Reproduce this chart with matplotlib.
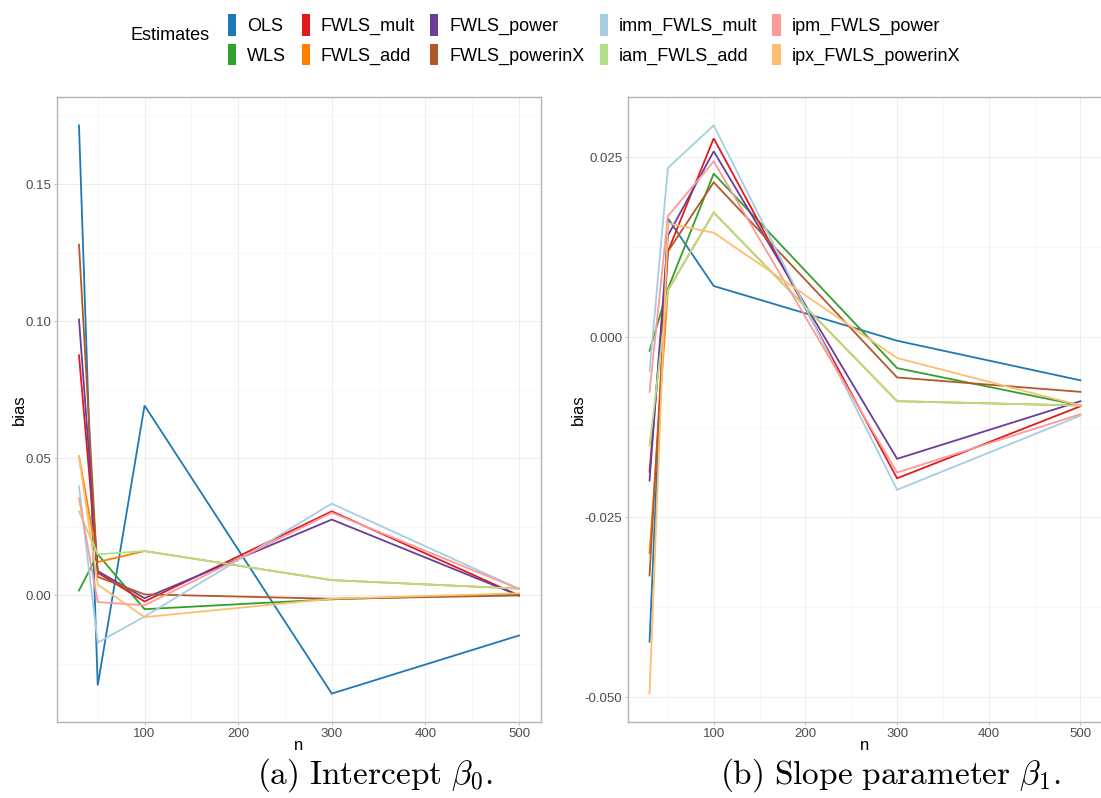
import numpy as np
import matplotlib.pyplot as plt
from matplotlib.patches import Patch
from matplotlib.ticker import MultipleLocator

plt.rcParams['font.family'] = ['Liberation Sans', 'DejaVu Sans']
plt.rcParams['mathtext.fontset'] = 'cm'

n = [30, 50, 100, 300, 500]

estimates = ['OLS', 'WLS', 'FWLS_mult', 'FWLS_add', 'FWLS_power', 'FWLS_powerinX',
             'imm_FWLS_mult', 'iam_FWLS_add', 'ipm_FWLS_power', 'ipx_FWLS_powerinX']
colors = ['#1F78B4', '#33A02C', '#E31A1C', '#FF7F00', '#6A3D9A', '#B15928',
          '#A6CEE3', '#B2DF8A', '#FB9A99', '#FDBF6F']

# bias of the intercept beta_0
b0_ols = [0.1715, -0.0328, 0.0693, -0.0358, -0.0146]
b0_wls = [0.0018, 0.0150, -0.0050, -0.0014, 0.0005]
b0_mult = [0.0876, 0.0083, -0.0022, 0.0307, 0.0000]
b0_add = [0.0508, 0.0122, 0.0162, 0.0056, 0.0025]
b0_power = [0.1007, 0.0089, -0.0010, 0.0277, 0.0000]
b0_powerinx = [0.1280, 0.0068, 0.0004, -0.0012, 0.0000]
b0_imm = [0.0398, -0.0172, -0.0077, 0.0335, 0.0024]
b0_iam = [0.0306, 0.0150, 0.0162, 0.0056, 0.0025]
b0_ipm = [0.0355, -0.0024, -0.0036, 0.0302, 0.0024]
b0_ipx = [0.0505, 0.0040, -0.0079, -0.0012, 0.0008]

# bias of the slope beta_1
b1_ols = [-0.0423, 0.0165, 0.0071, -0.0005, -0.0060]
b1_wls = [-0.0019, 0.0067, 0.0227, -0.0043, -0.0095]
b1_mult = [-0.0187, 0.0119, 0.0276, -0.0196, -0.0096]
b1_add = [-0.0300, 0.0065, 0.0173, -0.0089, -0.0095]
b1_power = [-0.0199, 0.0141, 0.0258, -0.0169, -0.0089]
b1_powerinx = [-0.0331, 0.0119, 0.0215, -0.0056, -0.0076]
b1_imm = [-0.0047, 0.0235, 0.0294, -0.0212, -0.0109]
b1_iam = [-0.0151, 0.0065, 0.0173, -0.0089, -0.0095]
b1_ipm = [-0.0076, 0.0168, 0.0244, -0.0188, -0.0107]
b1_ipx = [-0.0495, 0.0158, 0.0145, -0.0029, -0.0095]

b0 = [b0_ols, b0_wls, b0_mult, b0_add, b0_power, b0_powerinx, b0_imm, b0_iam, b0_ipm, b0_ipx]
b1 = [b1_ols, b1_wls, b1_mult, b1_add, b1_power, b1_powerinx, b1_imm, b1_iam, b1_ipm, b1_ipx]

W, H = 1101, 798
fig = plt.figure(figsize=(W / 100, H / 100), dpi=100)
fig.set_facecolor('white')

ax1 = fig.add_axes([57 / W, 1 - 722 / H, (541 - 57) / W, (722 - 97) / H])
ax2 = fig.add_axes([628 / W, 1 - 722 / H, (1102 - 628) / W, (722 - 97) / H])


def draw(ax, series, ystep):
    for vals, c in zip(series, colors):
        ax.plot(n, vals, color=c, lw=1.3, solid_joinstyle='miter')
    allv = np.concatenate(series)
    lo, hi = allv.min(), allv.max()
    pad = (hi - lo) * 0.05
    ax.set_ylim(lo - pad, hi + pad)
    ax.set_xlim(30 - 470 * 0.05, 500 + 470 * 0.05)
    ax.xaxis.set_major_locator(MultipleLocator(100))
    ax.xaxis.set_minor_locator(MultipleLocator(50))
    ax.yaxis.set_major_locator(MultipleLocator(ystep))
    ax.yaxis.set_minor_locator(MultipleLocator(ystep / 2))
    ax.grid(which='major', color='#EBEBEB', lw=0.6)
    ax.grid(which='minor', color='#F4F4F4', lw=0.5)
    ax.set_axisbelow(True)
    for s in ax.spines.values():
        s.set_color('#B3B3B3')
        s.set_linewidth(1.0)
    ax.tick_params(which='major', length=2.5, width=0.6, color='#B3B3B3',
                   labelcolor='#4D4D4D', labelsize=9.5, pad=1.5)
    ax.tick_params(which='minor', length=0)
    ax.set_xlabel('n', fontsize=12, labelpad=-1)
    ax.set_ylabel('bias', fontsize=12, labelpad=-1)


draw(ax1, b0, 0.05)
ax1.yaxis.set_major_formatter(plt.FuncFormatter(lambda v, p: f'{v:.2f}'))
draw(ax2, b1, 0.025)
ax2.yaxis.set_major_formatter(plt.FuncFormatter(lambda v, p: f'{v:.3f}'))

handles = [Patch(facecolor=c, edgecolor='none') for c in colors]
fig.legend(handles, estimates, ncol=5, loc='upper left',
           bbox_to_anchor=(212 / W, 1 + 2 / H), frameon=False, fontsize=13,
           handlelength=0.45, handleheight=1.45, handletextpad=0.6,
           columnspacing=0.85, labelspacing=0.45)
fig.text(130 / W, 1 - 36 / H, 'Estimates', fontsize=13, va='center', ha='left')

fig.text(375 / W, 1 - 775 / H, r'$\mathrm{(a)\ Intercept\ }\beta_0.$',
         fontsize=24, ha='center', va='center')
fig.text(890 / W, 1 - 775 / H, r'$\mathrm{(b)\ Slope\ parameter\ }\beta_1.$',
         fontsize=24, ha='center', va='center')

fig.savefig('out.png', dpi=100)
